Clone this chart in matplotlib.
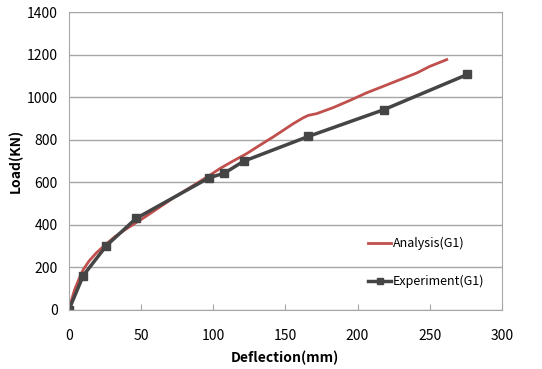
import matplotlib
matplotlib.use('Agg')
import matplotlib.pyplot as plt

plt.rcParams['font.family'] = ['Noto Sans CJK KR', 'DejaVu Sans']

# experiment (G1)
exp_x = [0, 10, 26, 46.5, 97, 107.7, 121, 166, 218, 276]
exp_y = [0, 162, 302, 430, 621, 643, 699, 816, 941, 1107]

# analysis (G1)
ana_x = [0, 2, 4, 7, 10, 14, 19, 25, 32, 40, 50, 60, 72, 85, 97.8, 104.7, 114, 123.2,
         132.4, 141.7, 148.6, 155.5, 162.5, 166, 171.7, 183, 195, 206, 218, 229.5, 241, 250, 261.8]
ana_y = [0, 50, 95, 145, 190, 230, 268, 305, 345, 382, 425, 470, 525, 580, 634, 665, 701, 735,
         775, 814, 845, 876, 904, 915, 923, 951, 986, 1020, 1052, 1083, 1114, 1145, 1177]

fig = plt.figure(figsize=(5.42, 3.69), dpi=100)
ax = fig.add_axes([0.127, 0.16, 0.799, 0.807])

ax.plot(ana_x, ana_y, color='#C0504D', lw=2, label='Analysis(G1)')
ax.plot(exp_x, exp_y, color='#454545', lw=2.5, marker='s', ms=6, label='Experiment(G1)')

ax.set_xlim(0, 300)
ax.set_ylim(0, 1400)
ax.set_xticks(range(0, 301, 50))
ax.set_yticks(range(0, 1401, 200))
ax.yaxis.grid(True, color='#A6A6A6', lw=1)
ax.set_axisbelow(True)
for s in ax.spines.values():
    s.set_color('#A6A6A6')
ax.tick_params(axis='x', direction='in', length=4, color='#A6A6A6', labelsize=10, pad=14)
ax.tick_params(axis='y', length=0, labelsize=10, pad=8)

ax.set_xlabel('Deflection(mm)', fontsize=10, fontweight='bold', labelpad=5)
ax.set_ylabel('Load(KN)', fontsize=10, fontweight='bold')
ax.yaxis.set_label_coords(-0.105, 0.5)

leg = ax.legend(loc='lower right', bbox_to_anchor=(0.985, 0.035), frameon=False, fontsize=9,
                labelspacing=2.0, handlelength=1.9, handletextpad=0.1, markerscale=0.8)

plt.savefig('out.png', dpi=100)
